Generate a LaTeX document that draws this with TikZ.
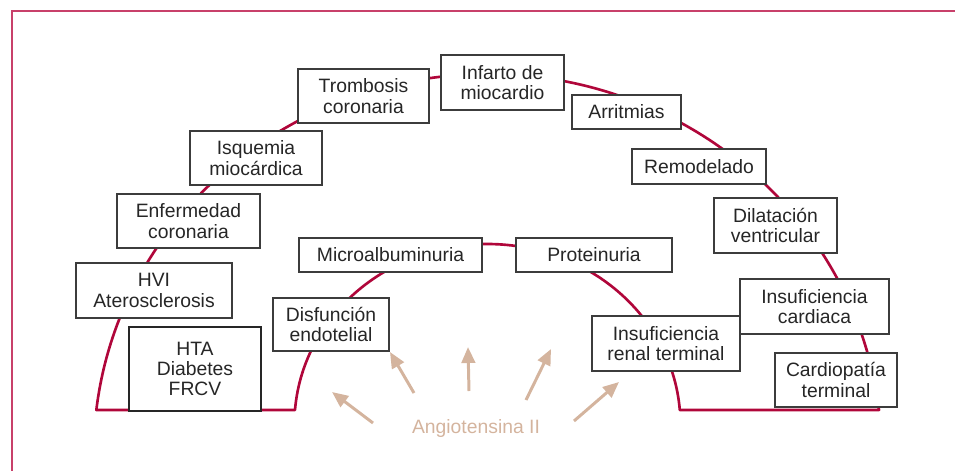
\documentclass[tikz,border=0pt]{standalone}
\usepackage{fontspec}
\setmainfont{Liberation Sans}
\usepackage{xcolor}
\usetikzlibrary{arrows.meta}
\definecolor{archred}{HTML}{B0063A}
\definecolor{framered}{HTML}{C8406A}
\definecolor{angio}{HTML}{D4B49E}
\definecolor{boxline}{HTML}{3C3C3C}
\tikzset{
  stage/.style ={draw=boxline, fill=white, line width=0.6pt, align=center,
                 inner sep=0pt, text=black!85,
                 font=\fontsize{11}{11.5}\selectfont},
  origin/.style={stage, draw=black!85, line width=1.7pt},
  boxsize/.style 2 args={minimum width=#1*0.2mm, minimum height=#2*0.2mm},
  archline/.style={draw=archred, line width=1.5pt, line join=round},
  frameline/.style={draw=framered, line width=0.9pt},
  push/.style  ={draw=angio, line width=1.7pt,
                 -{Triangle[length=3.2mm,width=2.7mm]}},
}

\begin{document}
\begin{tikzpicture}[x=0.2mm,y=-0.2mm]
\useasboundingbox (0,0) rectangle (955,471);
% --- frame ---
\draw[frameline] (12,471) |- (955,11);
% --- the arch: inner arc (kidney) and outer arc (heart) ---
\draw[archline] (97,410) -- (295,410)
  arc[start angle=-175.54, end angle=-4.46, x radius=193, y radius=180]
  -- (879,410)
  arc[start angle=-6.65, end angle=-173.35, x radius=394, y radius=380]
  -- cycle;
% --- outer arc ---
\node[origin,boxsize={132}{84}] (hta)    at (195,369)   {HTA\\Diabetes\\FRCV};
\node[stage,boxsize={156}{55}]  (hvi)    at (154,290.5) {HVI\\Aterosclerosis};
\node[stage,boxsize={143}{54}]  (enf)    at (188.5,221) {Enfermedad\\coronaria};
\node[stage,boxsize={132}{54}]  (isq)    at (256,158)   {Isquemia\\miocárdica};
\node[stage,boxsize={131}{54}]  (tromb)  at (363.5,96)  {Trombosis\\coronaria};
\node[stage,boxsize={123}{55}]  (infarto) at (502.5,82.5) {Infarto de\\miocardio};
\node[stage,boxsize={109}{34}]  (arrit)  at (626.5,112) {Arritmias};
\node[stage,boxsize={134}{35}]  (remod)  at (699,166.5) {Remodelado};
\node[stage,boxsize={123}{55}]  (dilat)  at (775.5,225.5) {Dilatación\\ventricular};
\node[stage,boxsize={149}{55}]  (icard)  at (814.5,306.5) {Insuficiencia\\cardiaca};
\node[stage,boxsize={122}{54}]  (cardiop) at (836,380)  {Cardiopatía\\terminal};
% --- inner arc ---
\node[stage,boxsize={116}{53}]  (disf)   at (331,324.5) {Disfunción\\endotelial};
\node[stage,boxsize={183}{34}]  (micro)  at (390.5,255) {Microalbuminuria};
\node[stage,boxsize={156}{34}]  (prot)   at (594,255)   {Proteinuria};
\node[stage,boxsize={148}{55}]  (irenal) at (666,343.5) {Insuficiencia\\renal terminal};
% --- angiotensina II ---
\node[font=\fontsize{11}{11.5}\selectfont,text=angio] (angio) at (476,428) {Angiotensina II};
\foreach \i/\tx/\ty/\hx/\hy in {1/373/423/332/392, 2/414/393/390/352,
    3/469/391/468/347, 4/526/400/551/349, 5/574/421/619/382}
  {\coordinate (t\i) at (\tx,\ty);
   \coordinate (h\i) at (\hx,\hy);
   \draw[push] (t\i) -- (h\i);}
\end{tikzpicture}
\end{document}
